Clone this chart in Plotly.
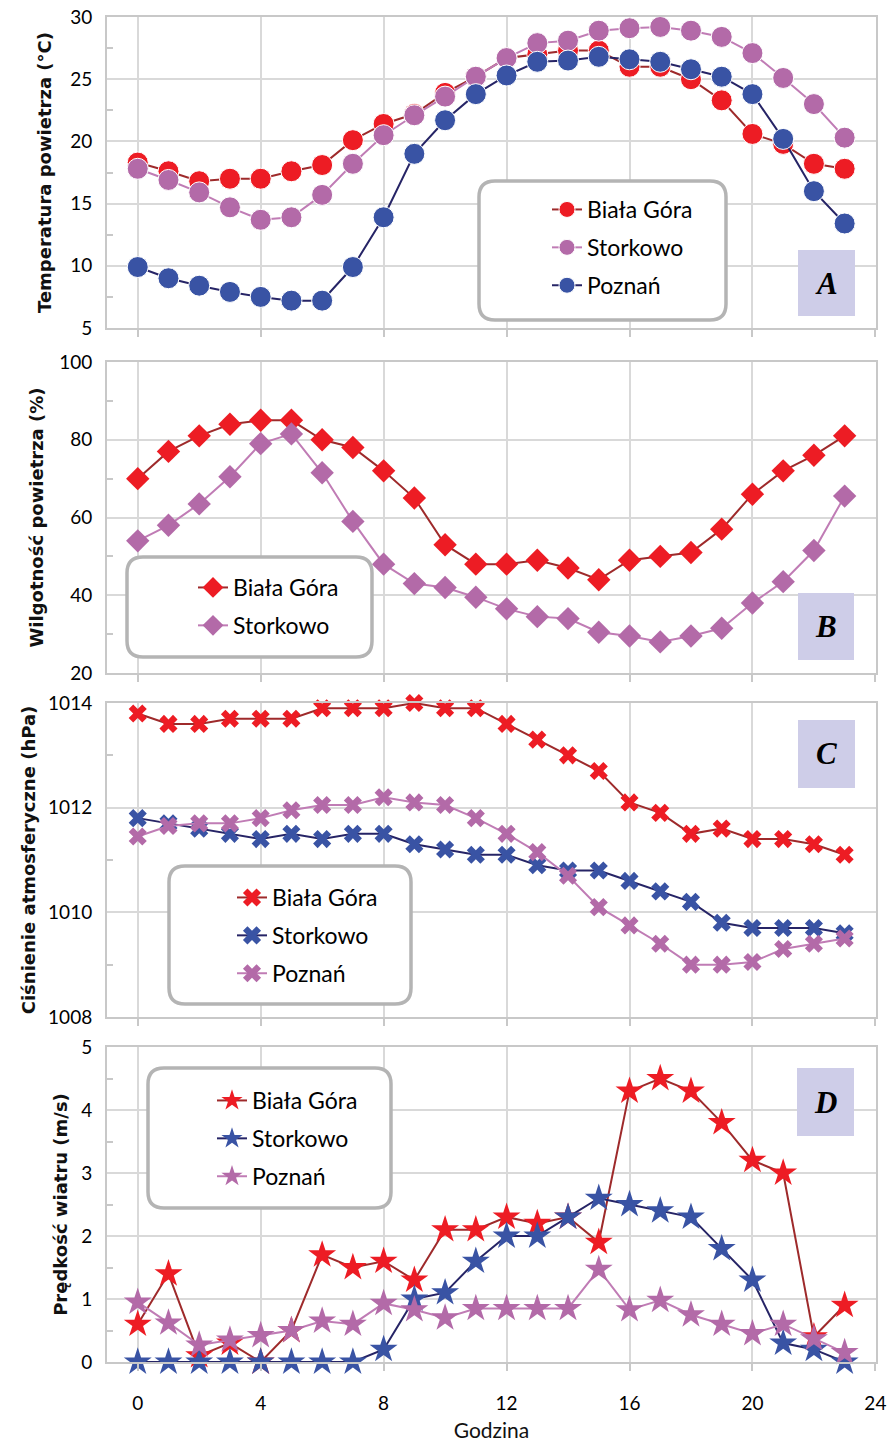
import plotly.graph_objects as go

# ---------------- data ----------------
hours = list(range(24))

# A: air temperature (°C)
temp_biala = [18.3, 17.6, 16.8, 17.0, 17.0, 17.6, 18.1, 20.1, 21.4, 22.2, 23.9, 25.2,
              26.7, 27.0, 27.3, 27.3, 26.0, 26.0, 25.0, 23.3, 20.6, 19.8, 18.2, 17.8]
temp_stork = [17.8, 16.9, 15.9, 14.7, 13.7, 13.9, 15.7, 18.2, 20.5, 22.1, 23.6, 25.2,
              26.7, 27.9, 28.1, 28.9, 29.1, 29.2, 28.9, 28.4, 27.1, 25.1, 23.0, 20.3]
temp_pozn = [9.9, 9.0, 8.4, 7.9, 7.5, 7.2, 7.2, 9.9, 13.9, 19.0, 21.7, 23.8,
             25.3, 26.4, 26.5, 26.8, 26.6, 26.4, 25.8, 25.2, 23.8, 20.2, 16.0, 13.4]

# B: relative humidity (%)
hum_biala = [70, 77, 81, 84, 85, 85, 80, 78, 72, 65, 53, 48,
             48, 49, 47, 44, 49, 50, 51, 57, 66, 72, 76, 81]
hum_stork = [54, 58, 63.5, 70.5, 79, 81.5, 71.5, 59, 48, 43, 42, 39.5,
             36.5, 34.5, 34, 30.5, 29.5, 28, 29.5, 31.5, 38, 43.5, 51.5, 65.5]

# C: atmospheric pressure (hPa)
pres_biala = [1013.8, 1013.6, 1013.6, 1013.7, 1013.7, 1013.7, 1013.9, 1013.9, 1013.9, 1014.0, 1013.9, 1013.9,
              1013.6, 1013.3, 1013.0, 1012.7, 1012.1, 1011.9, 1011.5, 1011.6, 1011.4, 1011.4, 1011.3, 1011.1]
pres_stork = [1011.8, 1011.7, 1011.6, 1011.5, 1011.4, 1011.5, 1011.4, 1011.5, 1011.5, 1011.3, 1011.2, 1011.1,
              1011.1, 1010.9, 1010.8, 1010.8, 1010.6, 1010.4, 1010.2, 1009.8, 1009.7, 1009.7, 1009.7, 1009.6]
pres_pozn = [1011.45, 1011.65, 1011.7, 1011.7, 1011.8, 1011.95, 1012.05, 1012.05, 1012.2, 1012.1, 1012.05, 1011.8,
             1011.5, 1011.15, 1010.7, 1010.1, 1009.75, 1009.4, 1009.0, 1009.0, 1009.05, 1009.3, 1009.4, 1009.5]

# D: wind speed (m/s)
wind_biala = [0.6, 1.4, 0.1, 0.3, 0.0, 0.5, 1.7, 1.5, 1.6, 1.3, 2.1, 2.1,
              2.3, 2.2, 2.3, 1.9, 4.3, 4.5, 4.3, 3.8, 3.2, 3.0, 0.4, 0.9]
wind_stork = [0, 0, 0, 0, 0, 0, 0, 0, 0.2, 1.0, 1.1, 1.6,
              2.0, 2.0, 2.3, 2.6, 2.5, 2.4, 2.3, 1.8, 1.3, 0.3, 0.2, 0.0]
wind_pozn = [0.95, 0.62, 0.27, 0.35, 0.42, 0.5, 0.65, 0.6, 0.93, 0.83, 0.7, 0.85,
             0.85, 0.85, 0.85, 1.47, 0.83, 0.98, 0.75, 0.6, 0.45, 0.6, 0.37, 0.15]

x_ticks = [0, 4, 8, 12, 16, 20, 24]

# ---------------- styling ----------------
W, H = 887, 1446
L, R = 107, 876
T, B = 17, 1362

RED = "#ed1c24"
RED_LINE = "#9e2a2b"
PINK = "#b36aa8"
PINK_LINE = "#c07cb5"
BLUE = "#3953a4"
NAVY = "#262466"

TICK_FONT = dict(family="Lato", size=19, color="#000000")
TITLE_FONT = dict(family="DejaVu Sans", size=18, color="#111111", weight="bold")
LEG_FONT = dict(family="Lato", size=23, color="#000000")


def fx(px):
    return (px - L) / (R - L)


def fy(py):
    return (B - py) / (B - T)


fig = go.Figure()


def add(x, y, name, mcol, lcol, sym, size, ax, leg, grp, outline=0):
    fig.add_trace(go.Scatter(
        x=x, y=y, name=name, mode="lines+markers",
        line=dict(color=lcol, width=2),
        marker=dict(symbol=sym, size=size, color=mcol,
                    line=dict(color="white", width=outline)),
        xaxis="x" + ax, yaxis="y" + ax, legend=leg, legendgroup=grp,
        cliponaxis=False, showlegend=True))


# Panel A
add(hours, temp_biala, "Biała Góra", RED, RED_LINE, "circle", 21, "", "legend", "a1", 1)
add(hours, temp_stork, "Storkowo", PINK, PINK_LINE, "circle", 21, "", "legend", "a2", 1)
add(hours, temp_pozn, "Poznań", BLUE, NAVY, "circle", 21, "", "legend", "a3", 1)
# Panel B
add(hours, hum_biala, "Biała Góra", RED, RED_LINE, "diamond", 18, "2", "legend2", "b1")
add(hours, hum_stork, "Storkowo", PINK, PINK_LINE, "diamond", 18, "2", "legend2", "b2")
# Panel C
add(hours, pres_biala, "Biała Góra", RED, RED_LINE, "x", 16, "3", "legend3", "c1")
add(hours, pres_stork, "Storkowo", BLUE, NAVY, "x", 16, "3", "legend3", "c2")
add(hours, pres_pozn, "Poznań", PINK, PINK_LINE, "x", 16, "3", "legend3", "c3")
# Panel D
add(hours, wind_biala, "Biała Góra", RED, RED_LINE, "star", 21, "4", "legend4", "d1")
add(hours, wind_stork, "Storkowo", BLUE, NAVY, "star", 21, "4", "legend4", "d2")
add(hours, wind_pozn, "Poznań", PINK, PINK_LINE, "star", 21, "4", "legend4", "d3")

# panel pixel bounds (top, bottom)
panels = [(17, 328), (362, 673), (703, 1017), (1047, 1362)]
yranges = [[5, 30], [20, 100], [1008, 1014], [0, 5]]
ydticks = [5, 20, 2, 1]
yminor = [2.5, 10, 1, 0.5]
ytitles = ["Temperatura powietrza (°C)", "Wilgotność powietrza (%)",
           "Ciśnienie atmosferyczne (hPa)", "Prędkość wiatru (m/s)"]
ystandoff = [14, 11, 8, 9]

layout = dict(
    width=W, height=H,
    margin=dict(l=L, r=W - R, t=T, b=H - B, pad=0, autoexpand=False),
    paper_bgcolor="white", plot_bgcolor="white",
    font=dict(family="Lato", color="#1a1a1a"),
)

for i, (top, bot) in enumerate(panels):
    sfx = "" if i == 0 else str(i + 1)
    last = i == 3
    layout["xaxis" + sfx] = dict(
        domain=[0, 1], anchor="y" + sfx, range=[-1, 24.02],
        tickmode="array", tickvals=x_ticks,
        showticklabels=last, tickfont=TICK_FONT,
        ticklabeloverflow="allow", automargin=False,
        ticks="outside", ticklen=7, tickcolor="#c8c8c8", tickwidth=1.5,
        ticklabelstandoff=16,
        showgrid=True, gridcolor="#d9d9d9", gridwidth=1.5,
        showline=True, linecolor="#c8c8c8", linewidth=2, mirror=True,
        zeroline=False, fixedrange=True,
        title=dict(text="Godzina" if last else "", font=dict(family="Lato", size=21, color="#111111"),
                   standoff=11),
    )
    layout["yaxis" + sfx] = dict(
        domain=[fy(bot), fy(top)], anchor="x" + sfx, range=yranges[i],
        tick0=yranges[i][0], dtick=ydticks[i], tickfont=TICK_FONT,
        ticks="", ticklabelstandoff=9, automargin=False,
        showgrid=True, gridcolor="#d9d9d9", gridwidth=1.5,
        showline=True, linecolor="#c8c8c8", linewidth=2, mirror=True,
        zeroline=False, fixedrange=True,
        minor=dict(dtick=yminor[i], ticks="inside", ticklen=6, tickcolor="#c8c8c8",
                   tickwidth=1.5, showgrid=False),
        title=dict(text=ytitles[i], font=TITLE_FONT, standoff=ystandoff[i]),
    )

# legends (x,y: pixel top-left of legend content)
leg_pos = [(547, 188), (193, 566), (232, 876), (212, 1079)]
for i, (lx, ly) in enumerate(leg_pos):
    key = "legend" if i == 0 else "legend" + str(i + 1)
    layout[key] = dict(
        x=fx(lx), y=fy(ly), xref="paper", yref="paper",
        xanchor="left", yanchor="top",
        bgcolor="rgba(0,0,0,0)", borderwidth=0,
        font=LEG_FONT, tracegroupgap=5, itemclick=False, itemdoubleclick=False,
    )

fig.update_layout(**layout)


def rounded_box(x0, y0, x1, y1, r):
    pts = [
        ("M", [(x0 + r, y0)]),
        ("L", [(x1 - r, y0)]),
        ("Q", [(x1, y0), (x1, y0 + r)]),
        ("L", [(x1, y1 - r)]),
        ("Q", [(x1, y1), (x1 - r, y1)]),
        ("L", [(x0 + r, y1)]),
        ("Q", [(x0, y1), (x0, y1 - r)]),
        ("L", [(x0, y0 + r)]),
        ("Q", [(x0, y0), (x0 + r, y0)]),
    ]
    s = ""
    for cmd, ps in pts:
        s += cmd + " " + " ".join(f"{fx(px):.5f},{fy(py):.5f}" for px, py in ps) + " "
    return s + "Z"


shapes = []
legend_boxes = [(479, 181, 726, 320), (127, 557, 372, 657), (169, 866, 411, 1004), (148, 1068, 391, 1208)]
for (x0, y0, x1, y1) in legend_boxes:
    shapes.append(dict(type="path", path=rounded_box(x0, y0, x1, y1, 16),
                       xref="paper", yref="paper", fillcolor="white",
                       line=dict(color="#b4b4b4", width=3.5), layer="above"))

label_boxes = [("A", 798, 250, 855, 316), ("B", 798, 593, 854, 660),
               ("C", 798, 720, 855, 788), ("D", 797, 1068, 854, 1136)]
annotations = []
for (lab, x0, y0, x1, y1) in label_boxes:
    shapes.append(dict(type="rect", xref="paper", yref="paper",
                       x0=fx(x0), x1=fx(x1), y0=fy(y1), y1=fy(y0),
                       fillcolor="#cecde8", line=dict(width=0), layer="above"))
    annotations.append(dict(text=f"<b><i>{lab}</i></b>", xref="paper", yref="paper",
                            x=fx((x0 + x1) / 2), y=fy((y0 + y1) / 2),
                            xanchor="center", yanchor="middle", showarrow=False,
                            font=dict(family="Liberation Serif", size=31, color="#000000")))

fig.update_layout(shapes=shapes, annotations=annotations)

fig.write_html("out.html")
